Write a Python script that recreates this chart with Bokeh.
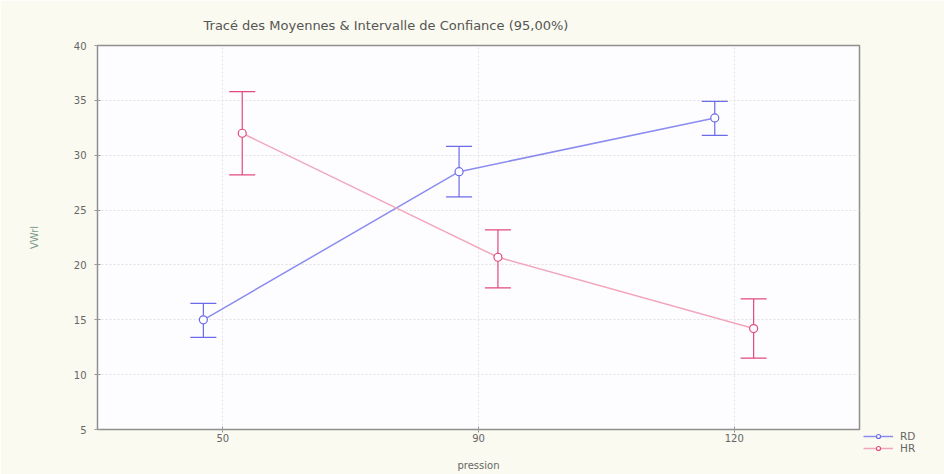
from bokeh.plotting import figure
from bokeh.models import (ColumnDataSource, Whisker, TeeHead, Legend, LegendItem,
                          FixedTicker, Title)
from bokeh.embed import file_html
from bokeh.resources import INLINE

categories = ["50", "90", "120"]
rd_mean = [15.0, 28.5, 33.4]
rd_low = [13.4, 26.2, 31.8]
rd_high = [16.5, 30.8, 34.9]
hr_mean = [32.0, 20.7, 14.2]
hr_low = [28.2, 17.9, 11.5]
hr_high = [35.8, 23.2, 16.9]
y_ticks = [5, 10, 15, 20, 25, 30, 35, 40]

RD_COL = "#6b6be8"
RD_LINE = "#8c8cf0"
HR_COL = "#e24a7c"
HR_LINE = "#f2a6bb"
DODGE = 0.076

xs = list(range(len(categories)))
rd_src = ColumnDataSource(dict(x=[v - DODGE for v in xs], m=rd_mean, lo=rd_low, hi=rd_high))
hr_src = ColumnDataSource(dict(x=[v + DODGE for v in xs], m=hr_mean, lo=hr_low, hi=hr_high))

p = figure(frame_width=762, frame_height=384, output_backend="svg", toolbar_location=None,
           x_range=(-0.49, 2.49), y_range=(5, 40),
           min_border_left=97, min_border_right=77, min_border_top=45, min_border_bottom=45)
p.border_fill_color = "#fafaf0"
p.background_fill_color = "#fdfdff"
p.outline_line_color = "#8f8f8f"
p.outline_line_width = 1.5

p.title = Title(text="Tracé des Moyennes & Intervalle de Confiance (95,00%)",
                align="left", offset=106, text_font="DejaVu Sans",
                text_font_size="13px", text_font_style="normal", text_color="#555555",
                standoff=26)

for ax in (p.xaxis[0], p.yaxis[0]):
    ax.axis_line_color = None
    ax.major_tick_line_color = "#999999"
    ax.major_tick_in = 3
    ax.major_tick_out = 3
    ax.minor_tick_line_color = None
    ax.major_label_text_color = "#666666"
    ax.major_label_text_font = "DejaVu Sans"
    ax.major_label_text_font_size = "10px"
    ax.axis_label_text_color = "#666666"
    ax.axis_label_text_font = "DejaVu Sans"
    ax.axis_label_text_font_size = "10px"
    ax.axis_label_text_font_style = "normal"

p.xaxis.ticker = FixedTicker(ticks=xs)
p.xaxis.major_label_overrides = {i: c for i, c in enumerate(categories)}
p.xaxis.axis_label = "pression"
p.xaxis.major_label_standoff = 1
p.xaxis.axis_label_standoff = 15
p.yaxis.ticker = FixedTicker(ticks=y_ticks)
p.yaxis.axis_label = "VWrl"
p.yaxis.major_label_standoff = 8
p.yaxis.axis_label_standoff = 31
p.yaxis.axis_label_text_color = "#7a9a8a"

p.grid.grid_line_color = "#e2e2e2"
p.grid.grid_line_dash = "2 2"
p.xgrid.ticker = FixedTicker(ticks=xs)
p.ygrid.ticker = FixedTicker(ticks=y_ticks)

rd_line = p.line("x", "m", source=rd_src, line_color=RD_LINE, line_width=1.5)
hr_line = p.line("x", "m", source=hr_src, line_color=HR_LINE, line_width=1.5)

for src, col in ((rd_src, RD_COL), (hr_src, HR_COL)):
    w = Whisker(source=src, base="x", lower="lo", upper="hi", dimension="height",
                line_color=col, line_width=1.2,
                upper_head=TeeHead(size=26, line_color=col, line_width=1.2),
                lower_head=TeeHead(size=26, line_color=col, line_width=1.2))
    p.add_layout(w)

rd_pt = p.scatter("x", "m", source=rd_src, marker="circle", size=8,
                  fill_color="white", line_color=RD_COL, line_width=1.2)
hr_pt = p.scatter("x", "m", source=hr_src, marker="circle", size=8,
                  fill_color="white", line_color=HR_COL, line_width=1.2)

legend = Legend(items=[LegendItem(label="RD", renderers=[rd_line, rd_pt]),
                       LegendItem(label="HR", renderers=[hr_line, hr_pt])],
                location=(4, -25), background_fill_alpha=0, border_line_color=None,
                glyph_width=30, glyph_height=10, label_height=10, spacing=0, padding=0,
                margin=0, label_text_font="DejaVu Sans", label_text_font_size="10.5px",
                label_text_color="#666666", label_standoff=7)
p.add_layout(legend, "right")

open("out.html", "w").write(file_html(p, INLINE))
